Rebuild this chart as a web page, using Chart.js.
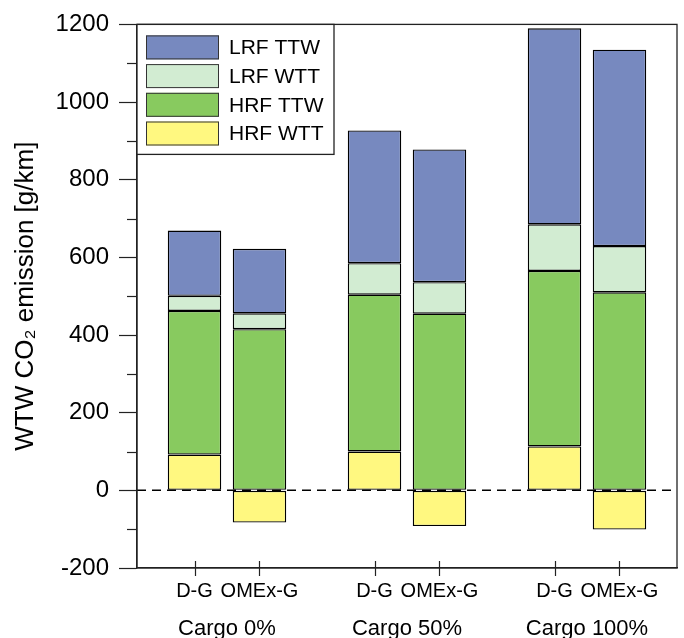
<!DOCTYPE html>
<html>
<head>
<meta charset="utf-8">
<script src="https://cdn.jsdelivr.net/npm/chart.js@4"></script>
<style>
  html, body { margin: 0; padding: 0; background: #ffffff; }
  #c { display: block; }
</style>
</head>
<body>
<canvas id="c" width="684" height="638"></canvas>
<script>
// ---- data ----
const categories = ['Cargo 0%', 'Cargo 50%', 'Cargo 100%'];
const fuels = ['D-G', 'OMEx-G'];
const seriesNames = ['HRF WTT', 'HRF TTW', 'LRF WTT', 'LRF TTW'];
const seriesColors = ['#FFF880', '#88CA5F', '#D2ECD2', '#7789BF'];

const hrfWttDG  = [92, 100, 113];
const hrfTtwDG  = [370, 404, 452];
const lrfWttDG  = [39, 81, 120];
const lrfTtwDG  = [168, 342, 505];

const hrfWttOME = [-83, -92, -101];
const hrfTtwOME = [415, 455, 510];
const lrfWttOME = [41, 81, 119];
const lrfTtwOME = [166, 342, 506];

const yMin = -200, yMax = 1200, yStep = 200, yMinorStep = 100;
const yTitle = 'WTW CO\u2082 emission [g/km]';

// ---- build datasets ----
const seriesByFuel = {
  'D-G':    [hrfWttDG, hrfTtwDG, lrfWttDG, lrfTtwDG],
  'OMEx-G': [hrfWttOME, hrfTtwOME, lrfWttOME, lrfTtwOME]
};
const datasets = [];
fuels.forEach(f => {
  seriesNames.forEach((name, i) => {
    datasets.push({
      label: name,
      data: seriesByFuel[f][i],
      stack: f,
      backgroundColor: seriesColors[i],
      borderColor: '#000',
      borderWidth: 1.4,
      borderSkipped: false,
      categoryPercentage: 0.722,
      barPercentage: 0.823
    });
  });
});

const FONT = "'Liberation Sans', Arial, sans-serif";

const framePlugin = {
  id: 'frame',
  afterDatasetsDraw(chart) {
    const ctx = chart.ctx;
    const a = chart.chartArea;
    const y = chart.scales.y;
    const y0 = y.getPixelForValue(0);
    ctx.save();
    ctx.strokeStyle = '#000';
    ctx.lineWidth = 1.5;
    ctx.setLineDash([9, 6]);
    ctx.beginPath();
    ctx.moveTo(a.left, y0);
    ctx.lineTo(a.right, y0);
    ctx.stroke();
    ctx.restore();
  },
  afterDraw(chart) {
    const ctx = chart.ctx;
    const a = chart.chartArea;
    const ys = chart.scales.y;
    ctx.save();
    ctx.strokeStyle = '#222';
    ctx.lineWidth = 1.3;
    ctx.strokeRect(a.left, a.top, a.right - a.left, a.bottom - a.top);
    // minor y ticks
    ctx.lineWidth = 1.2;
    for (let v = yMin + yMinorStep; v < yMax; v += yStep) {
      const py = Math.round(ys.getPixelForValue(v)) + 0.5;
      ctx.beginPath();
      ctx.moveTo(a.left - 10, py);
      ctx.lineTo(a.left, py);
      ctx.stroke();
    }
    // fuel labels and x ticks at bar centres
    ctx.fillStyle = '#000';
    ctx.font = '20px ' + FONT;
    ctx.textAlign = 'center';
    ctx.textBaseline = 'middle';
    fuels.forEach((f, fi) => {
      const dsIndex = fi * seriesNames.length;
      const meta = chart.getDatasetMeta(dsIndex);
      meta.data.forEach(el => {
        const px = Math.round(el.x) + 0.5;
        ctx.beginPath();
        ctx.moveTo(px, a.bottom - 7);
        ctx.lineTo(px, a.bottom + 8);
        ctx.stroke();
        ctx.fillText(f, el.x, a.bottom + 23);
      });
    });
    // legend
    const lx = a.left, ly = a.top, lw = 197, lh = 130;
    ctx.fillStyle = '#fff';
    ctx.fillRect(lx, ly, lw, lh);
    ctx.strokeStyle = '#222';
    ctx.lineWidth = 1.3;
    ctx.strokeRect(lx, ly, lw, lh);
    ctx.font = '21px ' + FONT;
    ctx.textAlign = 'left';
    ctx.textBaseline = 'middle';
    const items = chart.data.datasets.slice(0, seriesNames.length).slice().reverse();
    items.forEach((ds, i) => {
      const by = ly + 11 + i * 28.7;
      ctx.fillStyle = ds.backgroundColor;
      ctx.fillRect(lx + 9, by, 73, 24);
      ctx.strokeStyle = '#333';
      ctx.lineWidth = 1;
      ctx.strokeRect(lx + 9.5, by + 0.5, 72, 23);
      ctx.fillStyle = '#000';
      ctx.fillText(ds.label, lx + 92, by + 13);
    });
    ctx.restore();
  }
};

new Chart(document.getElementById('c'), {
  type: 'bar',
  data: { labels: categories, datasets: datasets },
  options: {
    responsive: false,
    animation: false,
    layout: { padding: { top: 22, right: 7, left: 0, bottom: 0 } },
    plugins: {
      legend: { display: false },
      tooltip: { enabled: false },
      title: { display: false }
    },
    scales: {
      x: {
        stacked: true,
        offset: true,
        grid: { display: true, drawOnChartArea: false, drawTicks: true, tickLength: 48, tickColor: 'rgba(0,0,0,0)' },
        border: { display: true, color: '#222', width: 1.3 },
        ticks: { color: '#000', font: { family: FONT, size: 22 }, padding: 0, maxRotation: 0 },
        afterFit(scale) { scale.height = 70; }
      },
      y: {
        stacked: true,
        min: yMin,
        max: yMax,
        ticks: {
          stepSize: yStep, color: '#000', font: { family: FONT, size: 24 }, padding: 10,
          callback: (v) => String(v)
        },
        grid: { drawOnChartArea: false, tickLength: 18, color: '#222', tickWidth: 1.2 },
        border: { display: true, color: '#222', width: 1.3 },
        title: {
          display: true,
          text: yTitle,
          color: '#000',
          font: { family: FONT, size: 26 },
          padding: { top: 10, bottom: 0 }
        },
        afterFit(scale) { scale.width = 137; }
      }
    }
  },
  plugins: [framePlugin]
});
</script>
</body>
</html>
